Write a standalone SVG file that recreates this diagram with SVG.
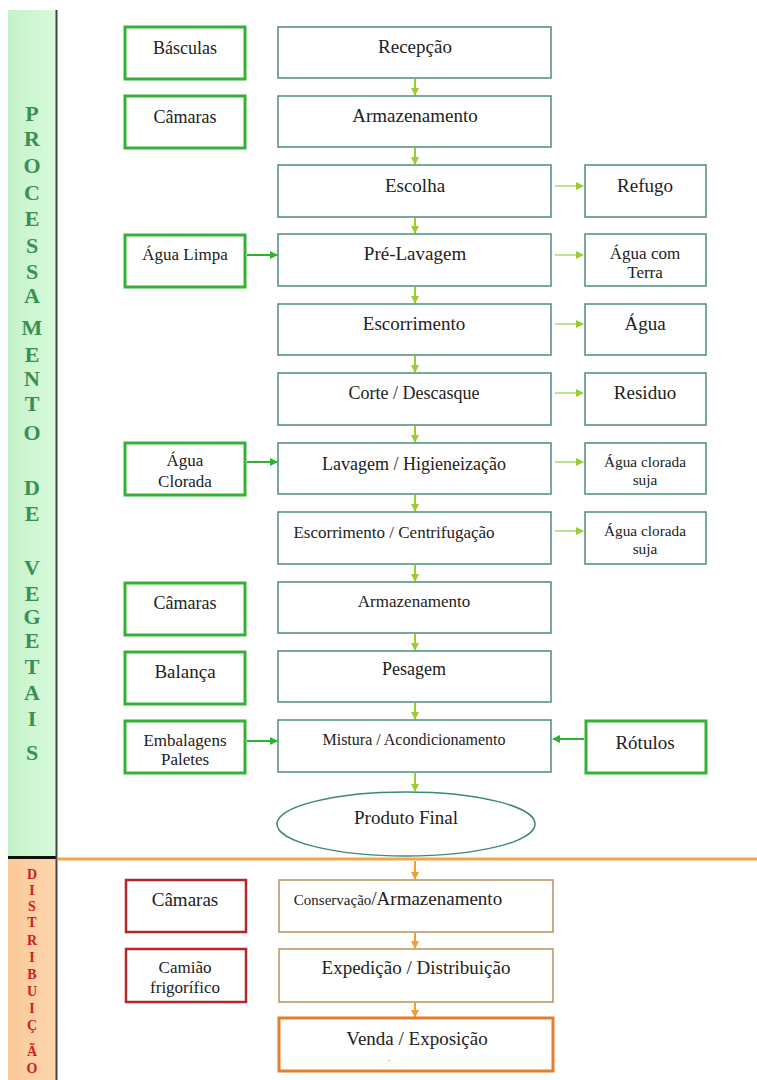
<svg xmlns="http://www.w3.org/2000/svg" width="757" height="1080" viewBox="0 0 757 1080" font-family="'Liberation Serif', 'DejaVu Serif', serif">
<defs>
<linearGradient id="gband" x1="0" y1="0" x2="1" y2="0">
<stop offset="0" stop-color="#c4f2c8"/><stop offset="1" stop-color="#d8fbdc"/>
</linearGradient>
<linearGradient id="oband" x1="0" y1="0" x2="1" y2="0">
<stop offset="0" stop-color="#fbc999"/><stop offset="1" stop-color="#fdd6ad"/>
</linearGradient>
<marker id="ay" markerWidth="8" markerHeight="8" refX="7" refY="4" orient="auto" markerUnits="userSpaceOnUse">
<path d="M0,0 L8,4 L0,8 Z" fill="#9acd32"/>
</marker>
<marker id="ag" markerWidth="8" markerHeight="8" refX="7" refY="4" orient="auto" markerUnits="userSpaceOnUse">
<path d="M0,0 L8,4 L0,8 Z" fill="#2eb32e"/>
</marker>
<marker id="ao" markerWidth="8" markerHeight="8" refX="7" refY="4" orient="auto" markerUnits="userSpaceOnUse">
<path d="M0,0 L8,4 L0,8 Z" fill="#f0a030"/>
</marker>
</defs>
<style>
text{font-family:'Liberation Serif','DejaVu Serif',serif;fill:#222;text-anchor:middle}
.c{fill:#fff;stroke:#4d8c7e;stroke-width:1.5}
.l{fill:#fff;stroke:#33b233;stroke-width:3}
.r{fill:#fff;stroke:#b3262a;stroke-width:2.5}
.d{fill:#fff;stroke:#b8925e;stroke-width:1.5}
.v{fill:#fff;stroke:#e27f2c;stroke-width:3}
.t19{font-size:19px}
.t18{font-size:18px}
.t17{font-size:17px}
.t16{font-size:16px}
.t15{font-size:15.3px}
.vg{font-size:22px;font-weight:bold;fill:#3a8f55}
.vr{font-size:14px;font-weight:bold;fill:#cc2020}
.ay{stroke:#9acd32;stroke-width:2;fill:none;marker-end:url(#ay)}
.ar{stroke:#a8d86a;stroke-width:1.5;fill:none;marker-end:url(#ay)}
.ag{stroke:#2eb32e;stroke-width:2;fill:none;marker-end:url(#ag)}
.ao{stroke:#f0a030;stroke-width:2;fill:none;marker-end:url(#ao)}
</style>

<g id="band">
<rect x="8" y="10" width="48" height="848" fill="url(#gband)"/>
<rect x="8" y="859" width="48" height="221" fill="url(#oband)"/>
<line x1="8" y1="857.5" x2="56" y2="857.5" stroke="#111" stroke-width="3"/>
<line x1="56.5" y1="10" x2="56.5" y2="1080" stroke="#444" stroke-width="2"/>
<line x1="57" y1="859" x2="757" y2="859" stroke="#f2a54a" stroke-width="3"/>
<text class="vg" x="32" y="121">P</text>
<text class="vg" x="32" y="146">R</text>
<text class="vg" x="32" y="173">O</text>
<text class="vg" x="32" y="200">C</text>
<text class="vg" x="32" y="226">E</text>
<text class="vg" x="32" y="253">S</text>
<text class="vg" x="32" y="279">S</text>
<text class="vg" x="32" y="303">A</text>
<text class="vg" x="32" y="335">M</text>
<text class="vg" x="32" y="362">E</text>
<text class="vg" x="32" y="386">N</text>
<text class="vg" x="32" y="411">T</text>
<text class="vg" x="32" y="440">O</text>
<text class="vg" x="32" y="495">D</text>
<text class="vg" x="32" y="521">E</text>
<text class="vg" x="32" y="575">V</text>
<text class="vg" x="32" y="601">E</text>
<text class="vg" x="32" y="624">G</text>
<text class="vg" x="32" y="648">E</text>
<text class="vg" x="32" y="674">T</text>
<text class="vg" x="32" y="700">A</text>
<text class="vg" x="32" y="726">I</text>
<text class="vg" x="32" y="760">S</text>
<text class="vr" x="32" y="879">D</text>
<text class="vr" x="32" y="895">I</text>
<text class="vr" x="32" y="911">S</text>
<text class="vr" x="32" y="927">T</text>
<text class="vr" x="32" y="945">R</text>
<text class="vr" x="32" y="962">I</text>
<text class="vr" x="32" y="979">B</text>
<text class="vr" x="32" y="996">U</text>
<text class="vr" x="32" y="1013">I</text>
<text class="vr" x="32" y="1030">Ç</text>
<text class="vr" x="32" y="1056">Ã</text>
<text class="vr" x="32" y="1073">O</text>
</g>

<g id="connectors">
<line class="ay" x1="415" y1="79" x2="415" y2="95"/>
<line class="ay" x1="415" y1="148" x2="415" y2="164"/>
<line class="ay" x1="415" y1="218" x2="415" y2="233"/>
<line class="ay" x1="415" y1="287" x2="415" y2="303"/>
<line class="ay" x1="415" y1="356" x2="415" y2="372"/>
<line class="ay" x1="415" y1="426" x2="415" y2="442"/>
<line class="ay" x1="415" y1="495" x2="415" y2="511"/>
<line class="ay" x1="415" y1="565" x2="415" y2="581"/>
<line class="ay" x1="415" y1="634" x2="415" y2="650"/>
<line class="ay" x1="415" y1="703" x2="415" y2="719"/>
<line class="ay" x1="415" y1="773" x2="415" y2="791"/>
<line class="ao" x1="415" y1="861" x2="415" y2="879"/>
<line class="ao" x1="415" y1="933" x2="415" y2="948"/>
<line class="ao" x1="415" y1="1003" x2="415" y2="1017"/>
<line class="ar" x1="555" y1="186" x2="583" y2="186"/>
<line class="ar" x1="555" y1="255" x2="583" y2="255"/>
<line class="ar" x1="555" y1="324" x2="583" y2="324"/>
<line class="ar" x1="555" y1="393" x2="583" y2="393"/>
<line class="ar" x1="555" y1="462" x2="583" y2="462"/>
<line class="ar" x1="555" y1="531" x2="583" y2="531"/>
<line class="ag" x1="247" y1="255" x2="277" y2="255"/>
<line class="ag" x1="247" y1="462" x2="277" y2="462"/>
<line class="ag" x1="247" y1="741" x2="277" y2="741"/>
<line class="ag" x1="584" y1="739" x2="553" y2="739"/>
</g>

<g id="n-recepcao"><rect class="c" x="278" y="27" width="273" height="51"/><text class="t19" x="415" y="53">Recepção</text></g>
<g id="n-armazenamento1"><rect class="c" x="278" y="96" width="273" height="51"/><text class="t19" x="415" y="122">Armazenamento</text></g>
<g id="n-escolha"><rect class="c" x="278" y="165" width="273" height="52"/><text class="t19" x="415" y="192">Escolha</text></g>
<g id="n-prelavagem"><rect class="c" x="278" y="234" width="273" height="52"/><text class="t19" x="415" y="260">Pré-Lavagem</text></g>
<g id="n-escorrimento"><rect class="c" x="278" y="304" width="273" height="51"/><text class="t19" x="414" y="330">Escorrimento</text></g>
<g id="n-corte"><rect class="c" x="278" y="373" width="273" height="52"/><text class="t18" x="414" y="399">Corte / Descasque</text></g>
<g id="n-lavagem"><rect class="c" x="278" y="443" width="273" height="51"/><text class="t18" x="414" y="470">Lavagem / Higieneização</text></g>
<g id="n-centrifugacao"><rect class="c" x="278" y="512" width="273" height="52"/><text class="t17" x="394" y="538">Escorrimento / Centrifugação</text></g>
<g id="n-armazenamento2"><rect class="c" x="278" y="582" width="273" height="51"/><text class="t17" x="414" y="607">Armazenamento</text></g>
<g id="n-pesagem"><rect class="c" x="278" y="651" width="273" height="51"/><text class="t18" x="414" y="675">Pesagem</text></g>
<g id="n-mistura"><rect class="c" x="278" y="720" width="273" height="52"/><text class="t16" x="414" y="745">Mistura / Acondicionamento</text></g>
<g id="n-produto"><ellipse cx="406" cy="824" rx="129" ry="32" fill="#fff" stroke="#3d8a6e" stroke-width="1.5"/><text class="t19" x="406" y="824">Produto Final</text></g>

<g id="l-basculas"><rect class="l" x="125" y="27" width="120" height="52"/><text class="t18" x="185" y="54">Básculas</text></g>
<g id="l-camaras1"><rect class="l" x="125" y="96" width="120" height="52"/><text class="t18" x="185" y="123">Câmaras</text></g>
<g id="l-agualimpa"><rect class="l" x="125" y="235" width="120" height="52"/><text class="t17" x="185" y="260">Água Limpa</text></g>
<g id="l-aguaclorada"><rect class="l" x="125" y="443" width="120" height="52"/><text class="t17" x="185" y="466">Água</text><text class="t17" x="185" y="487">Clorada</text></g>
<g id="l-camaras2"><rect class="l" x="125" y="583" width="120" height="52"/><text class="t18" x="185" y="609">Câmaras</text></g>
<g id="l-balanca"><rect class="l" x="125" y="652" width="120" height="52"/><text class="t19" x="185" y="678">Balança</text></g>
<g id="l-embalagens"><rect class="l" x="125" y="721" width="120" height="52"/><text class="t17" x="185" y="746">Embalagens</text><text class="t17" x="185" y="765">Paletes</text></g>

<g id="r-refugo"><rect class="c" x="585" y="165" width="121" height="52"/><text class="t19" x="645" y="192">Refugo</text></g>
<g id="r-aguaterra"><rect class="c" x="585" y="234" width="121" height="52"/><text class="t17" x="645" y="259">Água com</text><text class="t17" x="645" y="278">Terra</text></g>
<g id="r-agua"><rect class="c" x="585" y="304" width="121" height="51"/><text class="t19" x="645" y="330">Água</text></g>
<g id="r-residuo"><rect class="c" x="585" y="373" width="121" height="52"/><text class="t19" x="645" y="399">Residuo</text></g>
<g id="r-suja1"><rect class="c" x="585" y="443" width="121" height="51"/><text class="t15" x="645" y="467">Água clorada</text><text class="t15" x="645" y="485">suja</text></g>
<g id="r-suja2"><rect class="c" x="585" y="512" width="121" height="52"/><text class="t15" x="645" y="536">Água clorada</text><text class="t15" x="645" y="554">suja</text></g>
<g id="r-rotulos"><rect class="l" x="586" y="721" width="120" height="52"/><text class="t19" x="645" y="749">Rótulos</text></g>

<g id="d-conservacao"><rect class="d" x="279" y="880" width="274" height="52"/><text x="398" y="905"><tspan font-size="15">Conservação</tspan><tspan font-size="19">/Armazenamento</tspan></text></g>
<g id="d-expedicao"><rect class="d" x="279" y="949" width="274" height="53"/><text class="t19" x="416" y="974">Expedição / Distribuição</text></g>
<g id="d-venda"><rect class="v" x="279" y="1018" width="274" height="53"/><text class="t19" x="417" y="1045">Venda / Exposição</text><text x="389" y="1061" font-size="9">.</text></g>
<g id="d-camaras"><rect class="r" x="126" y="880" width="120" height="52"/><text class="t19" x="185" y="906">Câmaras</text></g>
<g id="d-camiao"><rect class="r" x="126" y="949" width="120" height="53"/><text class="t17" x="185" y="973">Camião</text><text class="t17" x="185" y="993">frigorífico</text></g>
</svg>
